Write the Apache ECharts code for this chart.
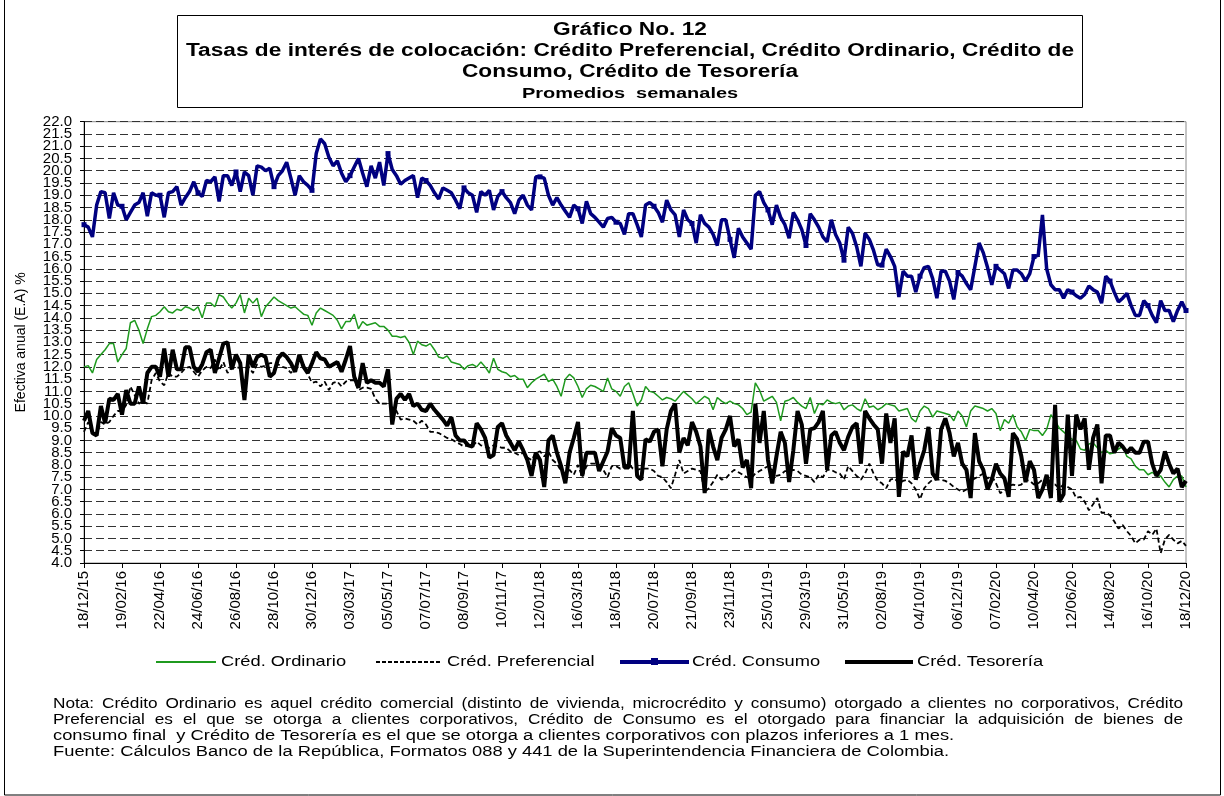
<!DOCTYPE html>
<html>
<head>
<meta charset="utf-8">
<script src="https://cdn.jsdelivr.net/npm/echarts@6/dist/echarts.min.js"></script>
<style>
  html, body { margin: 0; padding: 0; background: #fff; }
  #chart { width: 1224px; height: 796px; }
</style>
</head>
<body>
<div id="chart"></div>
<script>
// semanas: viernes desde 18/12/15 hasta 18/12/20 (262 observaciones)
const fechas = [];
for (let i = 0; i < 262; i++) {
  const d = new Date(Date.UTC(2015, 11, 18 + 7 * i));
  const dd = String(d.getUTCDate()).padStart(2, '0');
  const mm = String(d.getUTCMonth() + 1).padStart(2, '0');
  const yy = String(d.getUTCFullYear()).slice(2);
  fechas.push(dd + '/' + mm + '/' + yy);
}

// etiquetas del eje y, repartidas en dos ejes para que no se oculten
const ticksEnteros = [4, 5, 6, 7, 8, 9, 10, 11, 12, 13, 14, 15, 16, 17, 18, 19, 20, 21, 22];
const ticksMedios = [4.5, 5.5, 6.5, 7.5, 8.5, 9.5, 10.5, 11.5, 12.5, 13.5, 14.5, 15.5, 16.5, 17.5, 18.5, 19.5, 20.5, 21.5];

const ordinario = [
  12.0, 12.05, 11.75, 12.3, 12.5, 12.7, 12.95, 12.95, 12.2, 12.5,
  12.75, 13.8, 13.9, 13.5, 12.95, 13.55, 14.05, 14.1, 14.25, 14.45,
  14.25, 14.2, 14.35, 14.3, 14.45, 14.4, 14.3, 14.45, 14.0, 14.6,
  14.6, 14.45, 14.95, 14.85, 14.6, 14.4, 14.6, 14.95, 14.2, 14.8,
  14.6, 14.8, 14.05, 14.45, 14.65, 14.85, 14.7, 14.6, 14.5, 14.4,
  14.45, 14.3, 14.15, 14.1, 13.7, 14.2, 14.4, 14.3, 14.2, 14.1,
  13.9, 13.55, 13.85, 13.85, 14.15, 13.55, 13.85, 13.7, 13.75, 13.8,
  13.65, 13.65, 13.5, 13.25, 13.25, 13.2, 13.25, 13.0, 12.5, 13.05,
  12.9, 12.85, 12.95, 12.7, 12.4, 12.35, 12.45, 12.2, 12.15, 12.1,
  11.9, 12.05, 12.1, 12.0, 12.2, 12.0, 11.75, 12.35, 11.9, 11.8,
  11.75, 11.6, 11.65, 11.5, 11.5, 11.15, 11.35, 11.5, 11.6, 11.7,
  11.4, 11.5, 11.2, 10.8, 11.5, 11.7, 11.55, 11.2, 10.75, 11.1,
  11.25, 11.2, 11.1, 11.0, 11.55, 11.1, 11.0, 10.8, 11.2, 11.35,
  10.9, 10.4, 10.65, 11.2, 11.0, 10.95, 10.8, 10.65, 10.75, 10.7,
  10.6, 10.8, 11.0, 10.85, 10.7, 10.5, 10.65, 10.8, 10.7, 10.25,
  10.75, 10.6, 10.5, 10.6, 10.5, 10.45, 10.3, 10.05, 10.15, 11.35,
  11.05, 10.6, 10.7, 10.8, 10.55, 9.8, 10.6, 10.65, 10.75, 10.55,
  10.4, 10.3, 10.75, 10.1, 10.5, 10.45, 10.65, 10.55, 10.5, 10.55,
  10.25, 10.4, 10.45, 10.3, 10.2, 10.7, 10.35, 10.4, 10.25, 10.35,
  10.5, 10.45, 10.4, 10.2, 10.25, 10.3, 9.9, 9.75, 10.2, 10.4,
  10.3, 9.95, 10.2, 10.15, 10.1, 10.05, 9.8, 10.2, 10.0, 9.55,
  10.2, 10.4, 10.35, 10.3, 10.2, 10.3, 10.1, 9.4, 9.85, 9.7,
  10.05, 9.55, 9.35, 9.0, 9.45, 9.4, 9.4, 9.2, 9.45, 10.05,
  9.8, 9.5, 9.35, 9.2, 9.05, 9.0, 8.65, 8.6, 8.85, 8.9,
  8.7, 8.5, 8.6, 8.45, 8.5, 8.65, 8.75, 8.35, 8.25, 7.95,
  7.8, 7.8, 7.6, 7.7, 7.55, 7.55, 7.3, 7.1, 7.4, 7.55,
  7.55, 7.1
];

const preferencial = [
  9.35, 9.75, 9.25, 9.25, 9.75, 9.65, 9.75, 10.0, 10.2, 10.2,
  10.45, 11.2, 10.85, 10.5, 10.6, 10.5, 11.45, 11.75, 11.4, 11.25,
  11.75, 11.6, 11.6, 11.75, 11.95, 12.0, 11.8, 11.6, 11.85, 12.0,
  11.95, 12.3, 11.85, 12.2, 11.75, 11.95, 12.0, 11.95, 11.95, 12.0,
  11.75, 12.1, 12.0, 12.05, 12.15, 12.15, 12.1, 12.0, 11.95, 11.75,
  11.95, 12.0, 12.1, 11.7, 11.35, 11.4, 11.2, 11.4, 11.05, 11.35,
  11.4, 11.2, 11.4, 11.45, 11.45, 11.05, 11.15, 11.15, 11.1, 10.7,
  10.5, 10.5, 10.5, 10.35, 10.2, 9.85, 9.9, 9.85, 9.8, 9.65,
  9.8, 9.65, 9.35, 9.35, 9.3, 9.2, 9.1, 9.05, 8.95, 8.85,
  8.75, 8.8, 8.75, 8.95, 8.8, 8.75, 8.7, 8.8, 8.75, 8.7,
  8.7, 8.55, 8.5, 8.4, 8.5, 8.3, 8.2, 8.5, 8.55, 8.35,
  8.55, 8.2, 8.05, 7.75, 7.65, 7.8, 7.6, 8.0, 7.5, 7.95,
  8.05, 8.05, 8.0, 7.8, 7.5, 7.95, 7.95, 7.85, 7.95, 8.05,
  7.85, 7.8, 7.85, 7.85, 7.85, 7.75, 7.55, 7.5, 7.3, 7.05,
  7.6, 8.2, 7.65, 7.75, 7.85, 7.8, 7.75, 6.9, 7.05, 7.3,
  7.6, 7.4, 7.45, 7.65, 7.8, 7.7, 7.6, 7.5, 7.45, 7.65,
  7.75, 7.85, 7.95, 7.8, 7.55, 7.6, 7.75, 7.75, 7.8, 7.75,
  7.6, 7.55, 7.5, 7.3, 7.6, 7.5, 7.8, 7.8, 7.7, 7.65,
  7.4, 7.95, 7.75, 7.55, 7.4, 7.65, 8.05, 7.65, 7.35, 7.25,
  7.05, 7.4, 7.45, 7.25, 7.35, 7.4, 7.25, 7.0, 6.6, 7.05,
  7.25, 7.4, 7.4, 7.4, 7.35, 7.25, 7.1, 7.0, 6.9, 7.0,
  7.35, 7.45, 7.55, 7.65, 7.45, 7.55, 7.25, 6.85, 6.95, 7.15,
  7.2, 7.15, 7.2, 7.4, 7.35, 7.2, 7.25, 7.4, 7.1, 7.05,
  7.2, 7.05, 7.2, 7.1, 7.0, 6.65, 6.7, 6.5, 6.15, 6.4,
  6.65, 6.05, 6.05, 5.95, 5.7, 5.4, 5.55, 5.3, 5.1, 4.8,
  4.95, 4.95, 5.3, 5.15, 5.4, 4.4, 4.95, 5.15, 4.95, 4.8,
  4.9, 4.7
];

const consumo = [
  17.8, 17.7, 17.3, 18.6, 19.15, 19.1, 18.05, 19.1, 18.6, 18.55,
  18.0, 18.3, 18.6, 18.7, 19.1, 18.15, 19.1, 19.0, 19.0, 18.1,
  19.1, 19.15, 19.35, 18.6, 18.9, 19.15, 19.55, 19.1, 18.95, 19.6,
  19.55, 19.75, 18.75, 19.8, 19.8, 19.4, 19.95, 19.15, 19.95, 19.8,
  19.0, 20.2, 20.15, 20.0, 20.1, 19.35, 19.8, 20.0, 20.35, 19.7,
  19.0, 19.8, 19.55, 19.4, 19.2, 20.7, 21.3, 21.1, 20.55, 20.2,
  20.4, 19.9, 19.55, 19.8, 20.15, 20.5, 19.9, 19.35, 20.2, 19.7,
  20.35, 19.4, 20.7, 20.05, 19.8, 19.45, 19.6, 19.7, 19.8, 18.9,
  19.7, 19.6, 19.4, 19.1, 18.85, 19.3, 19.2, 19.1, 18.8, 18.45,
  19.3, 19.1, 19.0, 18.3, 19.15, 19.0, 19.2, 18.4, 18.95, 19.15,
  18.9, 18.7, 18.25, 18.8, 19.0, 18.6, 18.4, 19.75, 19.75, 19.7,
  19.0, 18.6, 18.9, 18.6, 18.35, 18.1, 18.6, 18.45, 17.85, 18.75,
  18.25, 18.1, 17.9, 17.7, 18.05, 18.1, 17.9, 17.85, 17.4, 18.25,
  18.25, 17.8, 17.3, 18.6, 18.7, 18.55, 18.3, 17.9, 18.8, 18.4,
  18.2, 17.3, 18.4, 18.0, 17.85, 17.05, 18.2, 17.85, 17.7, 17.4,
  16.95, 18.0, 18.0, 17.2, 16.45, 17.65, 17.3, 17.05, 16.8, 19.0,
  19.15, 18.7, 18.4, 17.8, 18.6, 18.1, 17.8, 17.25, 18.3, 18.0,
  17.6, 16.95, 18.25, 18.0, 17.7, 17.3, 17.1, 18.0, 17.4, 17.05,
  16.35, 17.7, 17.45, 16.9, 16.1, 17.45, 17.2, 16.75, 16.15, 16.15,
  16.8, 16.5, 16.1, 14.85, 15.9, 15.7, 15.7, 15.05, 15.7, 16.05,
  16.1, 15.6, 14.8, 15.9, 15.9, 15.5, 14.75, 15.85, 15.7, 15.4,
  15.15, 16.1, 17.05, 16.65, 16.05, 15.35, 16.1, 15.95, 15.8, 15.2,
  15.95, 15.95, 15.8, 15.5, 15.8, 16.5, 16.55, 18.2, 16.0, 15.35,
  15.15, 15.15, 14.8, 15.15, 15.05, 14.9, 14.8, 14.95, 15.3, 15.15,
  15.05, 14.6, 15.7, 15.5, 15.05, 14.65, 14.8, 15.0, 14.5, 14.1,
  14.1, 14.7, 14.5, 14.1, 13.8, 14.7, 14.3, 14.3, 13.85, 14.3,
  14.65, 14.3
];

const tesoreria = [
  9.8, 10.2, 9.3, 9.2, 10.4, 9.7, 10.7, 10.65, 10.9, 10.05,
  11.05, 10.5, 10.5, 11.2, 10.5, 11.75, 12.0, 12.0, 11.6, 12.75,
  11.6, 12.7, 11.9, 11.9, 12.8, 12.8, 12.0, 11.8, 12.1, 12.6,
  12.7, 11.75, 12.35, 12.95, 13.0, 11.9, 12.5, 12.15, 10.65, 12.5,
  12.0, 12.4, 12.5, 12.4, 11.6, 11.75, 12.35, 12.55, 12.4, 12.15,
  11.8, 12.5, 12.0, 11.75, 12.15, 12.6, 12.35, 12.3, 12.0, 12.1,
  12.2, 11.8, 12.3, 12.85, 11.6, 11.15, 12.15, 11.35, 11.45, 11.35,
  11.35, 11.2, 11.9, 9.65, 10.7, 10.9, 10.65, 10.9, 10.4, 10.5,
  10.25, 10.2, 10.5, 10.25, 10.05, 9.85, 9.6, 9.95, 9.2, 9.0,
  9.0, 8.8, 8.75, 9.7, 9.45, 9.1, 8.3, 8.4, 9.55, 9.7,
  9.2, 8.9, 8.6, 8.95, 8.6, 8.2, 7.55, 8.5, 8.2, 7.1,
  9.0, 9.2, 8.5, 7.95, 7.25, 8.5, 9.1, 9.75, 7.55, 8.5,
  8.5, 8.5, 7.75, 8.15, 8.55, 9.5, 9.2, 9.1, 7.9, 7.9,
  10.2, 7.55, 7.4, 9.05, 8.95, 9.35, 9.45, 7.95, 9.45, 10.2,
  10.5, 8.5, 9.1, 8.8, 9.75, 9.35, 8.75, 6.85, 9.45, 8.75,
  8.2, 9.1, 9.45, 10.0, 8.75, 9.05, 7.9, 8.2, 7.05, 10.5,
  8.9, 10.2, 8.2, 7.25, 8.35, 9.35, 8.9, 7.3, 8.6, 10.2,
  9.65, 8.05, 9.45, 9.5, 9.75, 10.2, 7.8, 9.2, 9.35, 8.9,
  8.6, 9.15, 9.55, 9.7, 8.05, 10.2, 9.9, 9.65, 9.45, 8.05,
  10.1, 8.9, 9.9, 6.7, 8.55, 8.35, 9.2, 7.4, 8.05, 8.6,
  9.55, 7.65, 7.4, 9.45, 9.9, 9.3, 8.35, 8.9, 8.05, 7.8,
  6.65, 9.3, 8.15, 7.8, 7.0, 7.4, 8.05, 7.65, 7.45, 6.7,
  9.3, 9.05, 8.35, 7.3, 8.15, 7.8, 6.65, 7.0, 7.6, 6.65,
  10.45, 6.5, 6.8, 10.05, 7.55, 10.05, 9.45, 9.9, 7.8, 9.1,
  9.65, 7.25, 9.2, 9.2, 8.5, 8.9, 8.75, 8.5, 8.7, 8.5,
  8.5, 8.95, 8.95, 8.05, 7.55, 7.8, 8.55, 8.05, 7.65, 7.85,
  7.1, 7.35
];

const titulo = [
  'Gráfico No. 12',
  'Tasas de interés de colocación: Crédito Preferencial, Crédito Ordinario, Crédito de',
  'Consumo, Crédito de Tesorería'
];
const subtitulo = 'Promedios  semanales';
const leyenda = ['Créd. Ordinario', 'Créd. Preferencial', 'Créd. Consumo', 'Créd. Tesorería'];

const nota = [
  'Nota: Crédito Ordinario es aquel crédito comercial (distinto de vivienda, microcrédito y consumo) otorgado a clientes no corporativos, Crédito',
  'Preferencial es el que se otorga a clientes corporativos, Crédito de Consumo es el otorgado para financiar la adquisición de bienes de',
  'consumo final  y Crédito de Tesorería es el que se otorga a clientes corporativos con plazos inferiores a 1 mes.',
  'Fuente: Cálculos Banco de la República, Formatos 088 y 441 de la Superintendencia Financiera de Colombia.'
];

const FONT = 'Liberation Sans, Arial, sans-serif';
const ANCHO = 1.26; // el texto del original es más ancho que alto

// texto justificado: reparte las palabras entre x0 y x1
function lineaJustificada(texto, y, x0, x1, size, sx) {
  const ctx = document.createElement('canvas').getContext('2d');
  ctx.font = size + 'px ' + FONT;
  const palabras = texto.split(' ');
  const anchos = palabras.map(p => ctx.measureText(p).width * sx);
  const total = anchos.reduce((a, b) => a + b, 0);
  const hueco = (x1 - x0 - total) / (palabras.length - 1);
  let x = x0;
  return palabras.map((p, i) => {
    const el = {
      type: 'text', x: x, y: y, scaleX: sx,
      style: { text: p, font: size + 'px ' + FONT, fill: '#000', textVerticalAlign: 'middle' }
    };
    x += anchos[i] + hueco;
    return el;
  });
}

const graficos = [
  { type: 'rect', shape: { x: 4.5, y: -2, width: 1216, height: 797 },
    style: { fill: 'none', stroke: '#000', lineWidth: 1 } },
  { type: 'rect', shape: { x: 177.5, y: 15.5, width: 905, height: 92 },
    style: { fill: 'none', stroke: '#000', lineWidth: 1 } }
];
titulo.forEach((t, i) => {
  graficos.push({
    type: 'text', x: 630, y: 30 + i * 21, scaleX: ANCHO,
    style: { text: t, font: 'bold 18px ' + FONT, fill: '#000', textAlign: 'center', textVerticalAlign: 'middle' }
  });
});
graficos.push({
  type: 'text', x: 630, y: 94, scaleX: 1.33,
  style: { text: subtitulo, font: 'bold 15px ' + FONT, fill: '#000', textAlign: 'center', textVerticalAlign: 'middle' }
});

// leyenda
const yLey = 662;
graficos.push(
  { type: 'line', shape: { x1: 156, y1: yLey, x2: 216, y2: yLey }, style: { stroke: '#1f9a1f', lineWidth: 2 } },
  { type: 'line', shape: { x1: 376, y1: yLey, x2: 441, y2: yLey }, style: { stroke: '#000', lineWidth: 2, lineDash: [4, 2] } },
  { type: 'line', shape: { x1: 620, y1: yLey, x2: 689, y2: yLey }, style: { stroke: '#000080', lineWidth: 4 } },
  { type: 'rect', shape: { x: 651, y: yLey - 4, width: 7, height: 7 }, style: { fill: '#000080' } },
  { type: 'line', shape: { x1: 845, y1: yLey, x2: 913, y2: yLey }, style: { stroke: '#000', lineWidth: 4 } }
);
[221, 447, 692, 917].forEach((x, i) => {
  graficos.push({
    type: 'text', x: x, y: yLey, scaleX: 1.22,
    style: { text: leyenda[i], font: '15px ' + FONT, fill: '#000', textVerticalAlign: 'middle' }
  });
});

nota.forEach((t, i) => {
  const y = 704 + i * 16;
  if (i < 2) {
    lineaJustificada(t, y, 53, 1183, 14, 1.23).forEach(e => graficos.push(e));
  } else {
    graficos.push({ type: 'text', x: 53, y: y, scaleX: 1.31,
      style: { text: t, font: '14px ' + FONT, fill: '#000', textVerticalAlign: 'middle' } });
  }
});

const etiquetaY = {
  color: '#000', margin: 12, fontSize: 15, fontFamily: FONT,
  showMinLabel: true, showMaxLabel: true,
  formatter: v => v.toFixed(1)
};

const chart = echarts.init(document.getElementById('chart'));
chart.setOption({
  animation: false,
  backgroundColor: '#fff',
  textStyle: { fontFamily: FONT },
  grid: {
    left: 84, right: 38, top: 121.7, bottom: 233,
    show: true, borderColor: '#8c8c8c', borderWidth: 1, backgroundColor: 'transparent'
  },
  xAxis: {
    type: 'category',
    data: fechas,
    boundaryGap: false,
    axisLine: { lineStyle: { color: '#000', width: 1 } },
    axisTick: { interval: 8, length: 5, lineStyle: { color: '#000' } },
    axisLabel: { interval: 8, rotate: 90, margin: 8, fontSize: 15, color: '#000', fontFamily: FONT },
    splitLine: { show: false }
  },
  yAxis: [
    {
      type: 'value',
      min: 4, max: 22, interval: 0.5,
      name: 'Efectiva anual (E.A) %',
      nameLocation: 'middle', nameRotate: 90, nameGap: 56,
      nameTextStyle: { fontSize: 14, color: '#000', fontFamily: FONT },
      axisLine: { show: true, lineStyle: { color: '#000', width: 1 } },
      axisTick: { show: true, length: 4, lineStyle: { color: '#000' } },
      axisLabel: Object.assign({ customValues: ticksEnteros }, etiquetaY),
      splitLine: { show: true, lineStyle: { color: '#333', type: [8, 4], width: 1 } }
    },
    {
      type: 'value', position: 'left', offset: 0,
      min: 4, max: 22, interval: 0.5,
      axisLine: { show: false },
      axisTick: { show: false },
      axisLabel: Object.assign({ customValues: ticksMedios }, etiquetaY),
      splitLine: { show: false }
    }
  ],
  series: [
    {
      name: leyenda[0], type: 'line', data: ordinario,
      showSymbol: false, symbol: 'none',
      lineStyle: { color: '#1f9a1f', width: 1.5 }, itemStyle: { color: '#1f9a1f' }
    },
    {
      name: leyenda[1], type: 'line', data: preferencial,
      showSymbol: false, symbol: 'none',
      lineStyle: { color: '#000', width: 1.8, type: [5, 3] }, itemStyle: { color: '#000' }
    },
    {
      name: leyenda[2], type: 'line', data: consumo,
      symbol: 'rect', symbolSize: 5, showSymbol: true,
      lineStyle: { color: '#000080', width: 3.5 }, itemStyle: { color: '#000080' }
    },
    {
      name: leyenda[3], type: 'line', data: tesoreria,
      showSymbol: false, symbol: 'none',
      lineStyle: { color: '#000', width: 4 }, itemStyle: { color: '#000' }
    }
  ],
  graphic: graficos
});
</script>
</body>
</html>
